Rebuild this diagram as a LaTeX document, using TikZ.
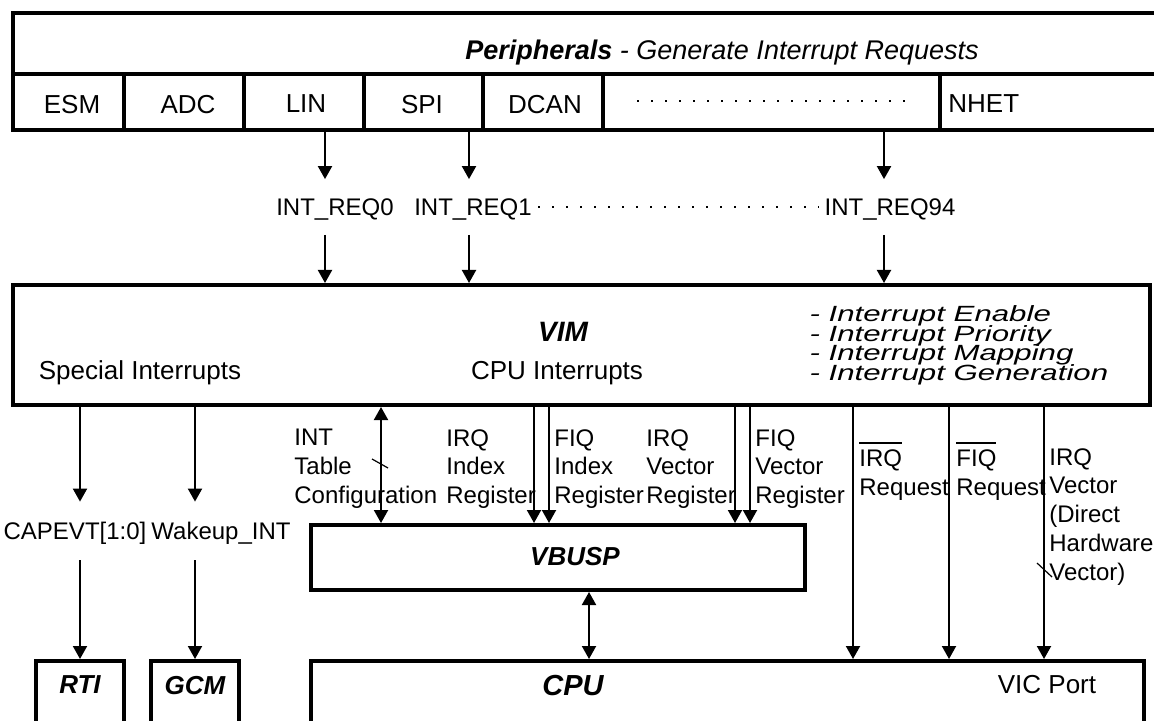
\documentclass[tikz,border=0pt]{standalone}
\usepackage{fontspec}
\setmainfont{Liberation Sans}
\usetikzlibrary{arrows.meta, positioning}
\tikzstyle{frame} = [draw, line width=2pt, rectangle, inner sep=0pt, anchor=north west]
\tikzstyle{arrow} = [line width=1pt, -{Triangle[length=6.5pt, width=7pt]}]
\tikzstyle{biarrow} = [line width=1pt, {Triangle[length=6.5pt, width=7pt]}-{Triangle[length=6.5pt, width=7pt]}]
\tikzstyle{plain} = [inner sep=0pt, text depth=0pt, font=\fontsize{13}{15}\selectfont]
\tikzstyle{bold} = [inner sep=0pt, text depth=0pt, font=\fontsize{13}{15}\selectfont\bfseries\itshape]
\tikzstyle{signal} = [inner sep=0pt, anchor=north west, align=left, font=\fontsize{12}{14.4}\selectfont]
\tikzstyle{req} = [inner sep=0pt, text height=8.6pt, text depth=0pt, minimum height=27.5pt, font=\fontsize{12}{14}\selectfont]
\tikzstyle{dots} = [line width=1.2pt, dash pattern=on 1.2pt off 5.8pt]
\newcommand{\barred}[1]{\vbox{\hrule height 0.9pt \kern 3pt \hbox{#1}}}
\newcommand{\tasksfont}{\fontsize{11}{9.9}\selectfont\itshape\lineskiplimit=-10pt\relax}

\begin{document}
\begin{tikzpicture}[x=0.5pt, y=-0.5pt]
    \clip (0,0) rectangle (1154,721);
    \fill[white] (0,0) rectangle (1154,721);

    \node[frame, minimum width=582pt, minimum height=58.5pt] (periph) at (11,11) {};
    \draw[line width=2pt] (periph.west |- 0,74) -- (periph.east |- 0,74);
    \foreach \x in {124,244,364,483,603,940}
      \draw[line width=2pt] (\x,74) -- (\x,74 |- periph.south);
    \node[plain, font=\fontsize{13.5}{15}\selectfont] (ptitle) at (722,50)
      {\textbf{\textit{Peripherals}} \textit{- Generate Interrupt Requests}};
    \foreach \name/\x in {ESM/72, ADC/188, LIN/306, SPI/422, DCAN/545}
      \node[plain] (\name) at (\x,104) {\name};
    \node[plain, anchor=west] (NHET) at (948,104) {NHET};
    \draw[dots] (637,101) -- (916,101);

    \coordinate (c0) at (325,0);
    \coordinate (c1) at (469,0);
    \coordinate (c94) at (884,0);
    \node[req] (req0) at (335,207) {INT\_REQ0};
    \node[req] (req1) at (473,207) {INT\_REQ1};
    \node[req] (req94) at (890,207) {INT\_REQ94};
    \draw[dots] ([xshift=3pt]req1.east) -- ([xshift=-3pt]req94.west);

    \node[frame, minimum width=568.5pt, minimum height=60pt] (vim) at (11,283) {};
    \foreach \c/\r in {c0/req0, c1/req1, c94/req94} {
      \draw[arrow] (periph.south -| \c) -- (\r.north -| \c);
      \draw[arrow] (\r.south -| \c) -- (vim.north -| \c);
    }
    \node[bold, font=\fontsize{14}{16}\selectfont\bfseries\itshape] (vimname) at (563,332) {VIM};
    \node[plain] (special) at (140,370) {Special Interrupts};
    \node[plain] (cpuint) at (557,370) {CPU Interrupts};
    \node[signal, font=\tasksfont, xscale=1.42, transform shape] (tasks) at (809,305)
      {- Interrupt Enable\\- Interrupt Priority\\- Interrupt Mapping\\- Interrupt Generation};

    \node[frame, minimum width=44pt, minimum height=40pt] (rti) at (34,659) {};
    \node[frame, minimum width=44pt, minimum height=40pt] (gcm) at (149,659) {};
    \node[frame, minimum width=247pt, minimum height=32.5pt] (vbusp) at (309,523) {};
    \node[frame, minimum width=416.5pt, minimum height=40pt] (cpu) at (309,659) {};
    \node[bold] (rtiname) at (rti.north |- 0,685) {RTI};
    \node[bold] (gcmname) at (gcm.north |- 0,685) {GCM};
    \node[bold] (vbuspname) at (575,556) {VBUSP};
    \node[bold, font=\fontsize{14.5}{16}\selectfont\bfseries\itshape] (cpuname) at (573,685) {CPU};
    \node[plain] (vicport) at (1047,684) {VIC Port};

    \node[req, minimum height=29pt] (capevt) at (75,531) {CAPEVT[1:0]};
    \node[req, minimum height=29pt] (wakeup) at (221,531) {Wakeup\_INT};
    \draw[arrow] (vim.south -| rti) -- (capevt.north -| rti);
    \draw[arrow] (capevt.south -| rti) -- (rti.north);
    \draw[arrow] (vim.south -| gcm) -- (wakeup.north -| gcm);
    \draw[arrow] (wakeup.south -| gcm) -- (gcm.north);

    \coordinate (cfg) at (381,0);
    \coordinate (irqidx) at (534,0);
    \coordinate (fiqidx) at (549,0);
    \coordinate (irqvec) at (735,0);
    \coordinate (fiqvec) at (750,0);
    \coordinate (irqreq) at (853,0);
    \coordinate (fiqreq) at (949,0);
    \coordinate (hwvec) at (1044,0);
    \coordinate (bus) at (589,0);
    \draw[biarrow] (vim.south -| cfg) -- (vbusp.north -| cfg);
    \foreach \c in {irqidx, fiqidx, irqvec, fiqvec}
      \draw[arrow] (vim.south -| \c) -- (vbusp.north -| \c);
    \foreach \c in {irqreq, fiqreq, hwvec}
      \draw[arrow] (vim.south -| \c) -- (cpu.north -| \c);
    \draw[biarrow] (vbusp.south -| bus) -- (cpu.north -| bus);
    \draw[line width=0.6pt] (372,459) -- (388,468);
    \draw[line width=0.6pt] (1037,563) -- (1052,577);

    \node[signal] (inttable) at (294,429) {INT\\Table\\Configuration};
    \node[signal] (irqindex) at (446,429) {IRQ\\Index\\Register};
    \node[signal] (fiqindex) at (554,429) {FIQ\\Index\\Register};
    \node[signal] (irqvector) at (646,429) {IRQ\\Vector\\Register};
    \node[signal] (fiqvector) at (755,429) {FIQ\\Vector\\Register};
    \node[signal] (irqrequest) at (859,442) {\barred{IRQ}\\Request};
    \node[signal] (fiqrequest) at (956,442) {\barred{FIQ}\\Request};
    \node[signal] (hwvector) at (1049,448) {IRQ\\Vector\\(Direct\\Hardware\\Vector)};
\end{tikzpicture}
\end{document}
